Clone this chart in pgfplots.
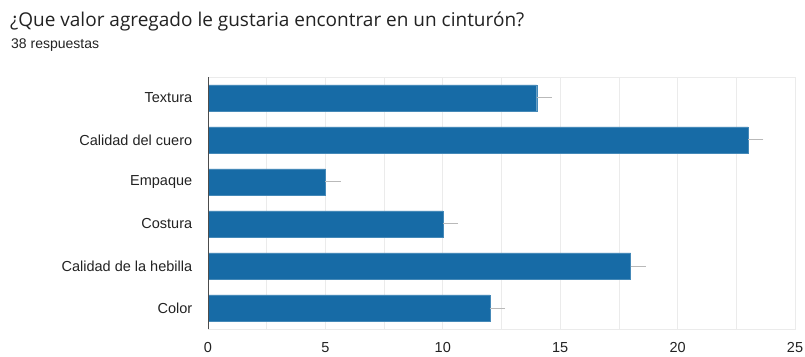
\documentclass[border=0pt]{standalone}
\usepackage{pgfplots}
\pgfplotsset{compat=1.18}
\usepackage{fontspec}
\setmainfont{Liberation Sans}
\newfontfamily\titlefont{Open Sans}
\definecolor{barblue}{HTML}{176BA6}
\definecolor{gridc}{HTML}{EBEBEB}
\definecolor{txt}{HTML}{222222}
\begin{document}
\begin{tikzpicture}[x=1pt,y=1pt]
\useasboundingbox (0,0) rectangle (805,356);
\node[anchor=base west,inner sep=0pt,text=txt] at (10,329) {\titlefont\fontsize{19}{21}\selectfont ¿Que valor agregado le gustaria encontrar en un cinturón?};
\node[anchor=base west,inner sep=0pt,text=txt] at (11,307) {\fontsize{14}{16}\selectfont 38 respuestas};
\begin{axis}[
  at={(208pt,27pt)}, anchor=south west,
  scale only axis, width=587pt, height=252pt,
  xbar, bar width=0.62,
  xmin=0, xmax=25, ymin=-0.5, ymax=5.5,
  xtick={0,5,10,15,20,25},
  minor xtick={2.5,7.5,12.5,17.5,22.5},
  ytick={0,1,2,3,4,5},
  yticklabels={Color,Calidad de la hebilla,Costura,Empaque,Calidad del cuero,Textura},
  xmajorgrids, xminorgrids,
  major grid style={gridc, line width=0.8pt},
  minor grid style={gridc, line width=0.8pt},
  axis line style={gridc, line width=0.8pt},
  tick style={draw=none},
  ticklabel style={font=\fontsize{14.5}{16}\selectfont, text=txt},
  xticklabel style={yshift=-10pt},
  yticklabel style={xshift=-8pt},
  /pgf/number format/assume math mode=true,
  clip=false,
]
\addplot[fill=barblue, draw=barblue!80!white, line width=0.4pt,
  error bars/.cd, x dir=plus, x explicit, error mark=none,
  error bar style={gray!55, line width=1pt}]
  coordinates {
  (12,0) +- (0.65,0)
  (18,1) +- (0.65,0)
  (10,2) +- (0.65,0)
  (5,3) +- (0.65,0)
  (23,4) +- (0.65,0)
  (14,5) +- (0.65,0)
  };
\draw[color=black!70, line width=1pt] (axis cs:0,-0.5) -- (axis cs:0,5.5);
\end{axis}
\end{tikzpicture}
\end{document}
